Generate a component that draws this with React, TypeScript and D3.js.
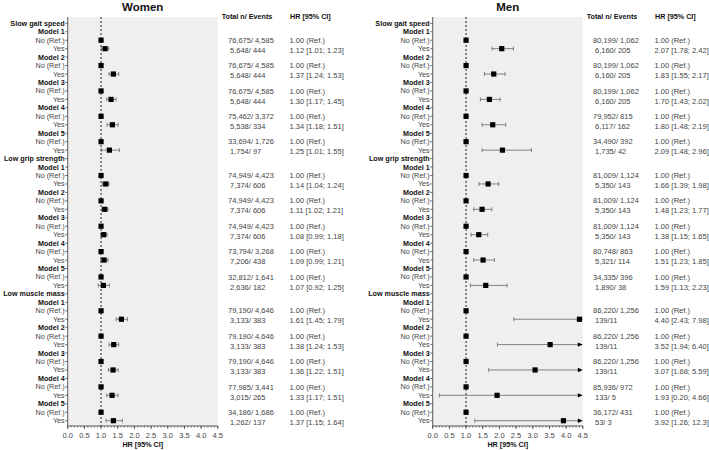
import * as d3 from "d3";

const width = 709;
const height = 450;

const outcomes = ["Slow gait speed", "Low grip strength", "Low muscle mass"];
const models = ["Model 1", "Model 2", "Model 3", "Model 4", "Model 5"];

// women: per outcome x model
const womenHR = [1.12, 1.37, 1.30, 1.34, 1.25, 1.14, 1.11, 1.08, 1.09, 1.07, 1.61, 1.38, 1.36, 1.33, 1.37];
const womenLo = [1.01, 1.24, 1.17, 1.18, 1.01, 1.04, 1.02, 0.99, 0.99, 0.92, 1.45, 1.24, 1.22, 1.17, 1.15];
const womenHi = [1.23, 1.53, 1.45, 1.51, 1.55, 1.24, 1.21, 1.18, 1.21, 1.25, 1.79, 1.53, 1.51, 1.51, 1.64];
const womenRef = [
  "76,675/ 4,585", "76,675/ 4,585", "76,675/ 4,585", "75,462/ 3,372", "33,694/ 1,726",
  "74,949/ 4,423", "74,949/ 4,423", "74,949/ 4,423", "73,794/ 3,268", "32,812/ 1,641",
  "79,190/ 4,646", "79,190/ 4,646", "79,190/ 4,646", "77,985/ 3,441", "34,186/ 1,686",
];
const womenExp = [
  "5,648/ 444", "5,648/ 444", "5,648/ 444", "5,538/ 334", "1,754/ 97",
  "7,374/ 606", "7,374/ 606", "7,374/ 606", "7,206/ 438", "2,636/ 182",
  "3,133/ 383", "3,133/ 383", "3,133/ 383", "3,015/ 265", "1,262/ 137",
];
const womenCI = [
  "1.12 [1.01; 1.23]", "1.37 [1.24; 1.53]", "1.30 [1.17; 1.45]", "1.34 [1.18; 1.51]", "1.25 [1.01; 1.55]",
  "1.14 [1.04; 1.24]", "1.11 [1.02; 1.21]", "1.08 [0.99; 1.18]", "1.09 [0.99; 1.21]", "1.07 [0.92; 1.25]",
  "1.61 [1.45; 1.79]", "1.38 [1.24; 1.53]", "1.36 [1.22; 1.51]", "1.33 [1.17; 1.51]", "1.37 [1.15; 1.64]",
];

const menHR = [2.07, 1.83, 1.70, 1.80, 2.09, 1.66, 1.48, 1.38, 1.51, 1.59, 4.40, 3.52, 3.07, 1.93, 3.92];
const menLo = [1.78, 1.55, 1.43, 1.48, 1.48, 1.39, 1.23, 1.15, 1.23, 1.13, 2.43, 1.94, 1.68, 0.20, 1.26];
const menHi = [2.42, 2.17, 2.02, 2.19, 2.96, 1.98, 1.77, 1.65, 1.85, 2.23, 7.98, 6.40, 5.59, 4.66, 12.3];
const menRef = [
  "80,199/ 1,062", "80,199/ 1,062", "80,199/ 1,062", "79,952/ 815", "34,490/ 392",
  "81,009/ 1,124", "81,009/ 1,124", "81,009/ 1,124", "80,748/ 863", "34,335/ 396",
  "86,220/ 1,256", "86,220/ 1,256", "86,220/ 1,256", "85,936/ 972", "36,172/ 431",
];
const menExp = [
  "6,160/ 205", "6,160/ 205", "6,160/ 205", "6,117/ 162", "1,735/ 42",
  "5,350/ 143", "5,350/ 143", "5,350/ 143", "5,321/ 114", "1,890/ 38",
  "139/11", "139/11", "139/11", "133/ 5", "53/ 3",
];
const menCI = [
  "2.07 [1.78; 2.42]", "1.83 [1.55; 2.17]", "1.70 [1.43; 2.02]", "1.80 [1.48; 2.19]", "2.09 [1.48; 2.96]",
  "1.66 [1.39; 1.98]", "1.48 [1.23; 1.77]", "1.38 [1.15; 1.65]", "1.51 [1.23; 1.85]", "1.59 [1.13; 2.23]",
  "4.40 [2.43; 7.98]", "3.52 [1.94; 6.40]", "3.07 [1.68; 5.59]", "1.93 [0.20; 4.66]", "3.92 [1.26; 12.3]",
];

const xTicks = [0, 0.5, 1, 1.5, 2, 2.5, 3, 3.5, 4, 4.5];

const FONT = "'Liberation Sans', Arial, sans-serif";

// row list: outcome heading, then model / No / Yes
type Row = { label: string; kind: "head" | "model" | "no" | "yes"; k: number };
const rows: Row[] = [];
outcomes.forEach((o, oi) => {
  rows.push({ label: o, kind: "head", k: -1 });
  models.forEach((m, mi) => {
    const k = oi * models.length + mi;
    rows.push({ label: m, kind: "model", k });
    rows.push({ label: "No (Ref.)", kind: "no", k });
    rows.push({ label: "Yes", kind: "yes", k });
  });
});

const top = 17;
const bottom = 426;
const y = d3.scaleLinear().domain([0, rows.length - 1]).range([23.3, 420.7]);

const Panel = ({ ox, title, hr, lo, hi, refTxt, expTxt, ciTxt }: any) => {
  const x = d3.scaleLinear().domain([0, 4.5]).range([ox + 67.7, ox + 217.8]);
  const minor = d3.range(0, 4.51, 0.1);
  const [x0, x1] = x.range();
  return (
    <g fontFamily={FONT}>
      <text x={(x0 + x1) / 2} y={11} textAnchor="middle" fontSize={11.5} fontWeight={700} fill="#111">{title}</text>
      <rect x={x0} y={top} width={x1 - x0} height={bottom - top} fill="#efefef" />
      {/* reference line */}
      <line x1={x(1)} x2={x(1)} y1={top} y2={bottom} stroke="#222" strokeWidth={1} strokeDasharray="2,2" />
      {/* y axis */}
      <line x1={x0} x2={x0} y1={top} y2={bottom} stroke="#333" strokeWidth={0.8} />
      {rows.map((r, i) => (
        <g key={i}>
          <line x1={x0 - 2.5} x2={x0} y1={y(i)} y2={y(i)} stroke="#333" strokeWidth={0.7} />
          <text x={x0 - 3} y={y(i)} dy="0.35em" textAnchor="end" fontSize={7.2}
            fontWeight={r.kind === "head" || r.kind === "model" ? 700 : 400}
            fill={r.kind === "head" || r.kind === "model" ? "#111" : "#444"}>{r.label}</text>
        </g>
      ))}
      {/* marks */}
      {rows.map((r, i) => {
        if (r.kind === "no") {
          return <rect key={i} x={x(1) - 2.6} y={y(i) - 2.6} width={5.2} height={5.2} fill="#000" />;
        }
        if (r.kind === "yes") {
          const k = r.k;
          const cy = y(i);
          const l = x(Math.max(0, lo[k]));
          const over = hi[k] > 4.5;
          const h = over ? x1 : x(hi[k]);
          return (
            <g key={i}>
              <line x1={l} x2={over ? h - 4 : h} y1={cy} y2={cy} stroke="#666" strokeWidth={0.8} />
              <line x1={l} x2={l} y1={cy - 2} y2={cy + 2} stroke="#666" strokeWidth={0.8} />
              {over ? (
                <path d={`M${h},${cy} L${h - 5},${cy - 2.2} L${h - 5},${cy + 2.2} Z`} fill="#000" />
              ) : (
                <line x1={h} x2={h} y1={cy - 2} y2={cy + 2} stroke="#666" strokeWidth={0.8} />
              )}
              <rect x={x(hr[k]) - 2.6} y={cy - 2.6} width={5.2} height={5.2} fill="#000" />
            </g>
          );
        }
        return null;
      })}
      {/* x axis */}
      <line x1={x0} x2={x1} y1={bottom} y2={bottom} stroke="#333" strokeWidth={0.8} />
      {minor.map((t, i) => (
        <line key={i} x1={x(t)} x2={x(t)} y1={bottom} y2={bottom + 1.6} stroke="#333" strokeWidth={0.6} />
      ))}
      {xTicks.map((t) => (
        <g key={t}>
          <line x1={x(t)} x2={x(t)} y1={bottom} y2={bottom + 3} stroke="#333" strokeWidth={0.8} />
          <text x={x(t)} y={438} textAnchor="middle" fontSize={7.5} fill="#444">{d3.format(".1f")(t)}</text>
        </g>
      ))}
      <text x={(x0 + x1) / 2} y={447} textAnchor="middle" fontSize={7.2} fontWeight={700} fill="#111">HR [95% CI]</text>
      {/* table */}
      <text x={ox + 221.7} y={18.5} fontSize={7.2} fontWeight={700} fill="#111">Total n/ Events</text>
      <text x={ox + 290} y={18.5} fontSize={7.2} fontWeight={700} fill="#111">HR [95% CI]</text>
      {rows.map((r, i) => {
        if (r.kind !== "no") return null;
        const k = r.k;
        const ya = y(i);
        return (
          <g key={i} fontSize={7.5} fill="#444">
            <text x={ox + 228} y={ya} dy="0.35em">{refTxt[k]}</text>
            <text x={ox + 230} y={ya + 10} dy="0.35em">{expTxt[k]}</text>
            <text x={ox + 289.5} y={ya} dy="0.35em">1.00 (Ref.)</text>
            <text x={ox + 289.5} y={ya + 10} dy="0.35em">{ciTxt[k]}</text>
          </g>
        );
      })}
    </g>
  );
};

export default function App() {
  return (
    <svg width={width} height={height} style={{ position: "absolute", left: 0, top: 0, background: "#fff" }}>
      <Panel ox={0} title="Women" hr={womenHR} lo={womenLo} hi={womenHi} refTxt={womenRef} expTxt={womenExp} ciTxt={womenCI} />
      <Panel ox={365} title="Men" hr={menHR} lo={menLo} hi={menHi} refTxt={menRef} expTxt={menExp} ciTxt={menCI} />
    </svg>
  );
}
